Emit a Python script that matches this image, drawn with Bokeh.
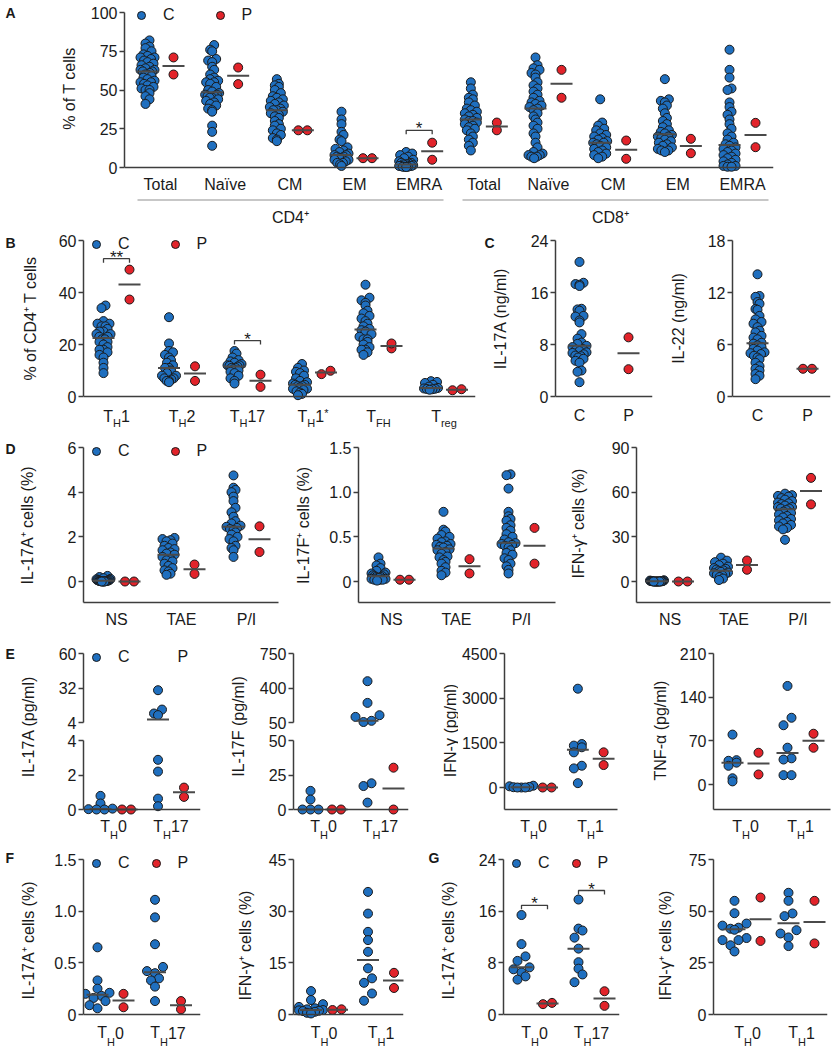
import numpy as np
from math import pi
from bokeh.plotting import figure
from bokeh.models import ColumnDataSource, Label, Legend, LegendItem, FixedTicker, Range1d, Arrow
from bokeh.layouts import row, column
from bokeh.embed import file_html
from bokeh.resources import INLINE

# ---------------------------------------------------------------- data
# Panel A
a_categories = ["Total", "Naïve", "CM", "EM", "EMRA", "Total", "Naïve", "CM", "EM", "EMRA"]
a_groups = ["CD4⁺", "CD8⁺"]
a_yticks = [0, 25, 50, 75, 100]
a_c = [
    [82, 80, 78, 77, 75, 73, 72, 71, 71, 70, 69, 68, 67, 66, 65, 64, 63, 63, 62, 62, 61, 60, 60, 59, 58, 57, 56, 55, 55, 54, 53, 52, 51, 50, 50, 48, 46, 44, 41],
    [79, 76, 75, 70, 69, 68, 65, 63, 60, 58, 57, 56, 55, 55, 54, 52, 50, 49, 48, 47, 47, 46, 46, 45, 45, 44, 43, 42, 41, 40, 38, 37, 36, 27, 23, 14],
    [57, 54, 53, 52, 50, 48, 46, 45, 44, 43, 42, 41, 40, 39, 38, 37, 37, 36, 35, 34, 33, 32, 30, 28, 27, 25, 24, 22, 21, 19, 18, 17],
    [36, 31, 28, 23, 21, 18, 17, 13, 12, 11, 10, 9, 8, 8, 7, 7, 6, 6, 5, 5, 4, 3, 3, 2, 1],
    [10, 9, 8, 7, 6, 5, 4, 3, 3, 2.5, 2, 2, 2, 1.5, 1, 1, 1, 1, 0.5, 0.5, 0.5, 0.3],
    [55, 51, 47, 45, 44, 42, 40, 38, 37, 36, 35, 34, 33, 32, 31, 30, 30, 29, 28, 27, 26, 25, 24, 22, 20, 18, 16, 14, 11],
    [71, 66, 64, 63, 61, 60, 58, 55, 53, 51, 49, 47, 45, 43, 42, 41, 40, 39, 38, 37, 35, 33, 31, 29, 27, 25, 22, 20, 16, 13, 10, 9, 8, 8, 7, 7, 6],
    [44, 29, 27, 25, 24, 22, 21, 20, 19, 18, 17, 16, 16, 15, 14, 13, 12, 11, 10, 9, 8, 7, 6],
    [57, 44, 43, 42, 40, 38, 35, 32, 30, 28, 26, 24, 23, 22, 21, 20, 20, 19, 18, 17, 16, 15, 14, 13, 12, 11, 11, 10],
    [76, 63, 58, 51, 50, 42, 39, 36, 34, 31, 28, 25, 22, 20, 18, 16, 15, 14, 13, 12, 11, 10, 9, 8, 7, 6, 5, 4, 3, 2, 1, 1, 0.5, 0.5],
]
a_p = [[71, 60], [64.5, 53.8], [24, 24], [6, 6], [16, 5], [29, 24], [63, 45], [17.4, 5.6], [18.5, 9.2], [28.8, 13.1]]
a_sig = [(4, 24, "*")]

# Panel B
b_categories = [("T", "H", "1", ""), ("T", "H", "2", ""), ("T", "H", "17", ""), ("T", "H", "1", "*"), ("T", "FH", "", ""), ("T", "reg", "", "")]
b_yticks = [0, 20, 40, 60]
b_c = [
    [35, 34, 29, 28, 28, 27, 27, 26, 25, 25, 24, 24, 23, 23, 22, 22, 21, 21, 20, 19, 18, 18, 17, 16, 15, 13, 11, 9],
    [30.5, 20.4, 17.5, 17, 16, 15, 14, 13, 12, 11, 11, 10, 9, 8, 8, 7, 7, 6.5, 6, 6, 5.5],
    [17.5, 16.5, 15, 14, 13.5, 13, 12.5, 12, 12, 11.8, 11.5, 11, 11, 10.5, 10, 9.5, 9, 8, 7, 6, 5],
    [12.5, 11, 10, 9.5, 9, 8, 7, 6, 5.5, 5, 4.5, 4.5, 4, 4, 3.5, 3, 3, 2.5, 2, 1.5, 1, 0.5],
    [43, 38, 37, 36, 35, 33, 32, 31, 30, 29, 28, 27, 26, 25.5, 25, 24, 23, 22, 22, 21, 20, 19, 18, 18, 17, 16],
    [5.9, 5.6, 5.2, 4.5, 3.8, 3.3, 3.1, 3.0, 2.9, 2.8, 2.6],
]
b_p = [[48.8, 37.3], [11.6, 6], [8.4, 3.7], [8.6, 9.9], [18.5, 20.4], [2.4, 2.8]]
b_sig = [(0, 53, "**"), (2, 21.5, "*")]

# Panel C
c_categories = ["C", "P"]
c1_yticks = [0, 8, 16, 24]
c1_c = [[20.7, 17.5, 17.3, 17.2, 17, 13.5, 13.4, 13.2, 12.4, 12.3, 11.7, 11.4, 9.6, 8.9, 8.3, 8.1, 7.8, 7.6, 7.3, 7.2, 7, 6.8, 6.7, 6.5, 6.3, 6.2, 6, 5.8, 5.5, 5.2, 4, 3.8, 2.2], []]
c1_p = [[], [9.1, 4.2]]
c2_yticks = [0, 6, 12, 18]
c2_c = [[14.1, 11.6, 11.5, 10.9, 10.7, 10.1, 10, 9.3, 8.9, 8.6, 8.4, 8.0, 7.6, 7.4, 7.0, 6.8, 6.6, 6.2, 6.1, 5.9, 5.7, 5.5, 5.3, 5.1, 5.0, 4.9, 4.7, 4.5, 4.3, 3.9, 3.5, 3.2, 3.0, 2.6, 2.4, 2.0], []]
c2_p = [[], [3.2, 3.2]]

# Panel D
d_categories = ["NS", "TAE", "P/I"]
d1_yticks = [0, 2, 4, 6]
d1_c = [
    [0.25, 0.2, 0.15, 0.12, 0.1, 0.08, 0.06, 0.05, 0.05, 0.04, 0.03, 0.03, 0.02, 0.02, 0.01, 0.01, 0, 0, 0, 0],
    [1.95, 1.9, 1.85, 1.8, 1.7, 1.6, 1.5, 1.45, 1.4, 1.3, 1.25, 1.2, 1.1, 1.0, 0.95, 0.9, 0.8, 0.7, 0.6, 0.5, 0.45, 0.35, 0.3],
    [4.75, 4.2, 4.1, 4.0, 3.8, 3.6, 3.3, 3.1, 2.9, 2.7, 2.6, 2.5, 2.45, 2.4, 2.35, 2.3, 2.2, 2.1, 2.0, 1.9, 1.8, 1.6, 1.5, 1.4, 1.1],
]
d1_p = [[0, 0], [0.34, 0.76], [2.47, 1.32]]
d2_yticks = [0, 0.5, 1.0, 1.5]
d2_c = [
    [0.27, 0.2, 0.18, 0.15, 0.12, 0.1, 0.09, 0.08, 0.07, 0.06, 0.06, 0.05, 0.05, 0.04, 0.04, 0.03, 0.03, 0.02, 0.02, 0.02, 0.01],
    [0.78, 0.58, 0.56, 0.52, 0.5, 0.48, 0.45, 0.44, 0.42, 0.41, 0.4, 0.39, 0.38, 0.36, 0.35, 0.33, 0.31, 0.28, 0.27, 0.24, 0.22, 0.2, 0.16, 0.12, 0.1, 0.07],
    [1.2, 1.19, 1.04, 0.78, 0.73, 0.7, 0.68, 0.63, 0.6, 0.57, 0.53, 0.5, 0.47, 0.44, 0.43, 0.42, 0.41, 0.4, 0.38, 0.35, 0.32, 0.3, 0.26, 0.24, 0.2, 0.17, 0.13, 0.09],
]
d2_p = [[0.02, 0.02], [0.25, 0.09], [0.6, 0.2]]
d3_yticks = [0, 30, 60, 90]
d3_c = [
    [0.8, 0.6, 0.5, 0.4, 0.3, 0.3, 0.2, 0.2, 0.1, 0.1, 0.1, 0, 0, 0, 0, 0, 0, 0, 0, 0],
    [16, 14, 13, 12, 11, 10, 9, 8.5, 8, 7.5, 7, 6.5, 6, 5.5, 5, 4.5, 4, 3, 2, 1],
    [59, 58, 57.5, 57, 56, 55, 54, 53, 52.5, 52, 51, 50, 50, 49, 49, 48, 47, 46, 45, 44, 43, 42, 41, 40, 39, 38, 37, 36, 35, 28],
]
d3_p = [[0, 0], [7.9, 14.1], [69.6, 51.8]]

# Panel E (E1/E2 have broken axes)
e_th17 = [("T", "H", "0", ""), ("T", "H", "17", "")]
e_th1 = [("T", "H", "0", ""), ("T", "H", "1", "")]
e1_top_ticks, e1_bot_ticks = [4, 32, 60], [0, 2, 4]
e1_c = [[0.79, 0.35, 0.05, 0.02, 0, 0], [30.2, 14.5, 11.3, 10, 2.88, 2.2, 0.63, 0.19]]
e1_p = [[0, 0], [0.73, 1.27]]
e2_top_ticks, e2_bot_ticks = [50, 400, 750], [0, 25, 50]
e2_c = [[13.5, 7.2, 0, 0, 0], [469, 249, 124, 107, 67, 55, 19, 17, 5]]
e2_p = [[0, 0], [30.3, 0]]
e3_yticks = [0, 1500, 3000, 4500]
e3_c = [[60, 40, 20, 10, 0, 0, 0], [3318, 1460, 1406, 1350, 1181, 731, 641, 146]]
e3_p = [[0, 0], [1181, 754]]
e4_yticks = [0, 70, 140, 210]
e4_c = [[80, 39, 38, 35, 30, 10, 5], [158, 107, 95, 59, 42, 40, 15, 15]]
e4_p = [[50.9, 16.1], [81.4, 58.9]]

# Panels F and G
f1_yticks = [0, 0.5, 1.0, 1.5]
f1_c = [[0.65, 0.33, 0.25, 0.21, 0.2, 0.18, 0.16, 0.13, 0.09, 0.06], [1.11, 0.94, 0.68, 0.46, 0.42, 0.40, 0.35, 0.33, 0.27, 0.13]]
f1_p = [[0.2, 0.07], [0.13, 0.05]]
f2_yticks = [0, 15, 30, 45]
f2_c = [[6.8, 4.2, 3.0, 2.2, 1.8, 1.5, 1.3, 1.2, 1.1, 1.0, 0.8, 0.5, 0.3], [35.6, 29.3, 24, 21.6, 18.2, 13.4, 10.5, 9.2, 6.1, 4.0]]
f2_p = [[1.3, 1.5], [12.1, 7.7]]
g1_yticks = [0, 8, 16, 24]
g1_c = [[15.4, 10.9, 9.0, 8.3, 7.3, 7.0, 6.5, 5.9, 5.4], [17.8, 13.3, 13.0, 11.9, 10.2, 8.1, 7.1, 6.2, 5.0]]
g1_p = [[1.6, 1.8], [3.6, 1.34]]
g1_sig = [(0, 16.9, "*"), (1, 19.2, "*")]
g2_yticks = [0, 25, 50, 75]
g2_c = [[55, 49, 44, 43, 42, 41.5, 41, 37, 36, 36, 33.5, 30.5], [58.9, 55, 48.9, 47.6, 40.8, 39.2, 37.3, 33.1]]
g2_p = [[56.6, 35.6], [55, 34.4]]

# ---------------------------------------------------------------- style
FONT = "Liberation Sans"
TXT = "#1a1a1a"
AXC = "#3d3d3d"
MEDC = "#4a4a4a"
GRP = "#909090"
BLUE = "#1f6fbf"
RED = "#e2232a"
EDGE = "#1a1a1a"
TICK_PX = 16
CAT_PX = 16
SUB_PX = 11
TITLE_PX = 16
DENSE = (6, 4, 7)
SPARSE = (9, 8, 12)
PAIR = (8, 9, 9)
MID = 0.35          # text middle sits this many ems above the baseline


def lin(r0, v0, r1, v1):
    return lambda r: v0 + (r - r0) * (v1 - v0) / (r1 - r0)


def style_axis(ax):
    ax.axis_line_color = AXC
    ax.axis_line_width = 1.5
    ax.major_tick_line_color = AXC
    ax.major_tick_line_width = 1.5
    ax.major_tick_in = 0
    ax.major_tick_out = 5
    ax.minor_tick_line_color = None
    ax.major_label_text_font = FONT
    ax.major_label_text_font_size = f"{TICK_PX}px"
    ax.major_label_text_color = TXT
    ax.major_label_standoff = 2


def hide_grids(p):
    for g in list(p.xgrid) + list(p.ygrid):
        g.visible = False


class Panel:
    """A plotting figure whose frame sits at given page pixels."""

    def __init__(self, box, fx, fy, xmap, ymap, yticks=None, bounds=None, fixed0=False, xaxis=True, ext_top=10):
        gx0, gx1, gy0, gy1 = box
        self.box = box
        self.X = lin(*xmap)
        self.Y = lin(*ymap)
        top = fy[0] - ext_top           # frame reaches a little above the top tick
        self.fx0, self.fx1 = fx
        self.fy0, self.fy1 = top, fy[1]
        self.xmap = xmap
        self.xpx = (xmap[2] - xmap[0]) / (xmap[3] - xmap[1])
        self.ypx = (ymap[2] - ymap[0]) / (ymap[1] - ymap[3])
        xr = (self.X(fx[0]), self.X(fx[1]))
        yr = (self.Y(fy[1]), self.Y(top))
        p = figure(width=gx1 - gx0, height=gy1 - gy0, x_range=Range1d(*xr), y_range=Range1d(*yr),
                   output_backend="svg", toolbar_location=None, frame_align=False,
                   x_axis_location="below" if xaxis else None, y_axis_location="left",
                   min_border_left=fx[0] - gx0, min_border_right=gx1 - fx[1],
                   min_border_top=top - gy0, min_border_bottom=gy1 - fy[1])
        p.outline_line_color = None
        hide_grids(p)
        if xaxis:
            ax = p.xaxis[0]
            style_axis(ax)
            ax.major_tick_out = 0
            ax.ticker = FixedTicker(ticks=[])
            if fixed0:
                ax.fixed_location = 0
        ay = p.yaxis[0]
        style_axis(ay)
        ay.ticker = FixedTicker(ticks=yticks)
        ay.major_label_overrides = {float(t): str(t) for t in yticks}
        if bounds is None:
            bounds = (0 if fixed0 else yr[0], self.Y(fy[0]))
        ay.bounds = bounds
        self.fig = p

    def cat_ref(self, i):
        return self.xmap[0] + i * (self.xmap[2] - self.xmap[0]) / (self.xmap[3] - self.xmap[1])


class Strip:
    """A blank figure used only to hold texts and guide lines, in page pixels."""

    def __init__(self, x0, x1, y0, y1):
        p = figure(width=x1 - x0, height=y1 - y0, x_range=Range1d(x0, x1), y_range=Range1d(-y1, -y0),
                   output_backend="svg", toolbar_location=None, frame_align=False,
                   x_axis_location=None, y_axis_location=None,
                   min_border_left=0, min_border_right=0, min_border_top=0, min_border_bottom=0)
        p.outline_line_color = None
        hide_grids(p)
        self.fig = p

    def text(self, x, y, s, size=TITLE_PX, align="center", angle=0, bold=False, x_offset=0):
        # y is the baseline (page pixels); the label is centred on the text's middle
        self.fig.add_layout(Label(
            x=x, y=-(y - MID * size), x_offset=x_offset, text=s,
            text_font=FONT, text_font_size=f"{size}px", text_color=TXT,
            text_align=align, text_baseline="middle", angle=angle,
            text_font_style="bold" if bold else "normal"))

    def ytitle(self, x, y, s):
        self.fig.add_layout(Label(
            x=x, y=-y, text=s, text_font=FONT, text_font_size=f"{TITLE_PX}px", text_color=TXT,
            text_align="center", text_baseline="middle", angle=pi / 2))

    def letter(self, x, y, s):
        self.text(x, y, s, size=14, align="left", bold=True)

    def hline(self, x0, x1, y):
        self.fig.add_layout(Arrow(end=None, x_start=x0, y_start=-y, x_end=x1, y_end=-y,
                                  line_color=GRP, line_width=1.2))


CW = {"T": .611, "H": .722, "F": .611, "r": .333, "e": .556, "g": .556, "*": .389}


def tw(s, size):
    return sum(CW.get(ch, .556) for ch in s) * size


def sub_labels(strip, pn, parts_list, yref, dsub):
    for i, parts in enumerate(parts_list):
        main, sub, tail, sup = parts
        pieces = [(main, CAT_PX, 0), (sub, SUB_PX, dsub), (tail, CAT_PX, 0), (sup, SUB_PX, -5)]
        pieces = [q for q in pieces if q[0]]
        xo = -sum(tw(t, s) for t, s, _ in pieces) / 2
        for t, s, dy in pieces:
            strip.text(pn.cat_ref(i), yref + dy, t, size=s, align="left", x_offset=xo)
            xo += tw(t, s)


def plain_labels(strip, pn, labels, yref):
    for i, s in enumerate(labels):
        strip.text(pn.cat_ref(i), yref, s, size=CAT_PX)


def below(pn, y1):
    gx0, gx1, gy0, gy1 = pn.box
    return Strip(gx0, gx1, gy1, y1)


def swarm_offsets(vals, ypx, bh, sp, mw):
    v = np.asarray(vals, float)
    out = np.zeros(len(v))
    bins = np.floor(v * ypx / bh + 0.5).astype(int)
    for b in sorted(set(bins.tolist())):
        idx = np.where(bins == b)[0]
        idx = idx[np.argsort(v[idx], kind="stable")]
        n = len(idx)
        if n < 2:
            continue
        s = min(sp, 2 * mw / (n - 1))
        slots = sorted([(k - (n - 1) / 2) * s for k in range(n)], key=lambda z: (abs(z), z))
        for k, j in enumerate(idx):
            out[j] = slots[k]
    return out


def draw_groups(pn, c_groups, p_groups, cpar=DENSE, lo=-1e18, hi=1e18):
    off = 13 / pn.xpx
    half = 11 / pn.xpx
    rends = []
    segs = dict(x0=[], x1=[], y=[])
    for groups, sign, par, color in ((c_groups, -1, cpar, BLUE), (p_groups, 1, PAIR, RED)):
        xs, ys = [], []
        for i, g in enumerate(groups):
            g = np.asarray(g, float)
            if len(g) == 0:
                continue
            center = i + sign * off if len(c_groups[i]) and len(p_groups[i]) else i
            m = float(np.median(g))
            if lo < m <= hi:
                segs["x0"].append(center - half)
                segs["x1"].append(center + half)
                segs["y"].append(m)
            sel = g[(g > lo) & (g <= hi)]
            if len(sel):
                o = swarm_offsets(sel, pn.ypx, *par)
                xs += list(center + o / pn.xpx)
                ys += list(sel)
        src = ColumnDataSource(dict(x=xs, y=ys))
        r = pn.fig.scatter(x="x", y="y", source=src, size=9, marker="circle",
                           fill_color=color, line_color=EDGE, line_width=1)
        rends.append(r)
    pn.fig.segment(x0="x0", y0="y", x1="x1", y1="y", source=ColumnDataSource(segs),
                   line_color=MEDC, line_width=2)
    return rends


def add_legend(pn, rends, cx, cy, spacing):
    leg = Legend(items=[LegendItem(label="C", renderers=[rends[0]]), LegendItem(label="P", renderers=[rends[1]])],
                 location=(cx - 10 - pn.fx0, pn.fy1 - (cy + 10)), orientation="horizontal",
                 border_line_color=None, background_fill_alpha=0, padding=0, margin=0,
                 spacing=spacing, label_standoff=12, glyph_width=20, glyph_height=20,
                 label_width=11, label_height=20, label_text_font=FONT,
                 label_text_font_size="16px", label_text_color=TXT)
    pn.fig.add_layout(leg)


def add_sig(pn, sigs):
    off = 13 / pn.xpx
    t = 4 / pn.ypx
    xs, ys = [], []
    for cat, y, s in sigs:
        x0, x1 = cat - off, cat + off
        xs.append([x0, x0, x1, x1])
        ys.append([y - t, y, y, y - t])
        pn.fig.add_layout(Label(x=cat, y=y + 1.5 / pn.ypx, text=s, text_font=FONT, text_font_size="17px",
                                text_color=TXT, text_align="center", text_baseline="middle"))
    pn.fig.multi_line(xs=xs, ys=ys, line_color=AXC, line_width=1.3)


# ---------------------------------------------------------------- row 1 : A  (y 0..230)
sA = Strip(0, 80, 0, 230)
sA.letter(5, 17, "A")
sA.ytitle(69, 88, "% of T cells")
A = Panel((80, 839, 0, 176), (124, 773), (12, 173), (160, 0, 224.67, 1), (12, 100, 167, 0),
          a_yticks, fixed0=True)
rA = draw_groups(A, a_c, a_p)
add_sig(A, a_sig)
add_legend(A, rA, 141, 15, 35)
bA = below(A, 230)
plain_labels(bA, A, a_categories, 190)
for (gx0, gx1, gl, gc) in ((137, 443, a_groups[0], 290), (462, 768, a_groups[1], 610)):
    bA.hline(gx0, gx1, 199.5)
    bA.text(gc, 223, gl, size=TITLE_PX)
row1 = row(sA.fig, column(A.fig, bA.fig))

# ---------------------------------------------------------------- row 2 : B, C  (y 230..429)
sB = Strip(0, 40, 230, 429)
sB.letter(5, 247, "B")
sB.ytitle(30, 318, "% of CD4⁺ T cells")
B = Panel((40, 478, 230, 405), (83, 475), (240, 402), (116, 0, 181.5, 1), (240, 60, 396, 0),
          b_yticks, fixed0=True)
rB = draw_groups(B, b_c, b_p)
add_sig(B, b_sig)
add_legend(B, rB, 96, 244, 35)
bB = below(B, 429)
sub_labels(bB, B, b_categories, 421.5, 5)

sC1 = Strip(478, 512, 230, 429)
sC1.letter(484, 247, "C")
sC1.ytitle(500, 318, "IL-17A (ng/ml)")
C1 = Panel((512, 660, 230, 405), (555, 652), (240, 402), (579, 0, 628, 1), (240, 24, 396, 0),
           c1_yticks, fixed0=True)
draw_groups(C1, c1_c, c1_p)
bC1 = below(C1, 429)
plain_labels(bC1, C1, c_categories, 420.5)

sC2 = Strip(660, 690, 230, 429)
sC2.ytitle(678, 318, "IL-22 (ng/ml)")
C2 = Panel((690, 839, 230, 405), (732, 830), (240, 402), (757, 0, 807, 1), (240, 18, 396, 0),
           c2_yticks, fixed0=True)
draw_groups(C2, c2_c, c2_p)
bC2 = below(C2, 429)
plain_labels(bC2, C2, c_categories, 420.5)
row2 = row(sB.fig, column(B.fig, bB.fig), sC1.fig, column(C1.fig, bC1.fig), sC2.fig, column(C2.fig, bC2.fig))

# ---------------------------------------------------------------- row 3 : D  (y 429..628)
sD1 = Strip(0, 40, 429, 628)
sD1.letter(5, 453, "D")
sD1.ytitle(27, 525, "IL-17A⁺ cells (%)")
D1 = Panel((40, 290, 429, 612), (83, 278), (447, 602), (116, 0, 181, 1), (447, 6, 581, 0), d1_yticks)
rD = draw_groups(D1, d1_c, d1_p)
add_legend(D1, rD, 96, 451, 35)
bD1 = below(D1, 628)
plain_labels(bD1, D1, d_categories, 625)

sD2 = Strip(290, 318, 429, 628)
sD2.ytitle(303, 525, "IL-17F⁺ cells (%)")
D2 = Panel((318, 565, 429, 612), (358, 555), (447, 602), (391, 0, 456, 1), (447, 1.5, 581, 0), d2_yticks)
draw_groups(D2, d2_c, d2_p)
bD2 = below(D2, 628)
plain_labels(bD2, D2, d_categories, 625)

sD3 = Strip(565, 593, 429, 628)
sD3.ytitle(578, 523, "IFN-γ⁺ cells (%)")
D3 = Panel((593, 839, 429, 612), (636, 830), (447, 602), (669.5, 0, 733.5, 1), (447, 90, 581, 0), d3_yticks)
draw_groups(D3, d3_c, d3_p)
bD3 = below(D3, 628)
plain_labels(bD3, D3, d_categories, 625)
row3 = row(sD1.fig, column(D1.fig, bD1.fig), sD2.fig, column(D2.fig, bD2.fig), sD3.fig, column(D3.fig, bD3.fig))

# ---------------------------------------------------------------- row 4 : E  (y 628..842)
sE1 = Strip(0, 45, 628, 842)
sE1.letter(5, 658, "E")
sE1.ytitle(28, 726, "IL-17A (pg/ml)")
E1t = Panel((45, 222, 628, 731), (83, 200), (653, 731), (113, 0, 170.5, 1), (653, 60, 722, 4),
            e1_top_ticks, bounds=(4, 60), xaxis=False)
rE = draw_groups(E1t, e1_c, e1_p, SPARSE, lo=4)
add_legend(E1t, rE, 96, 657, 16)
E1b = Panel((45, 222, 731, 818), (83, 200), (731, 815), (113, 0, 170.5, 1), (740, 4, 809, 0),
            e1_bot_ticks, bounds=(0, 4), fixed0=True, ext_top=0)
draw_groups(E1b, e1_c, e1_p, SPARSE, hi=4)
bE1 = below(E1b, 842)
sub_labels(bE1, E1b, e_th17, 831.5, 6.5)

sE2 = Strip(222, 255, 628, 842)
sE2.ytitle(238, 726, "IL-17F (pg/ml)")
E2t = Panel((255, 432, 628, 731), (293, 408), (653, 731), (323, 0, 380, 1), (653, 750, 722, 50),
            e2_top_ticks, bounds=(50, 750), xaxis=False)
draw_groups(E2t, e2_c, e2_p, SPARSE, lo=50)
E2b = Panel((255, 432, 731, 818), (293, 408), (731, 815), (323, 0, 380, 1), (740, 50, 809, 0),
            e2_bot_ticks, bounds=(0, 50), fixed0=True, ext_top=0)
draw_groups(E2b, e2_c, e2_p, SPARSE, hi=50)
bE2 = below(E2b, 842)
sub_labels(bE2, E2b, e_th17, 831.5, 6.5)

sE3 = Strip(432, 458, 628, 842)
sE3.ytitle(450, 730, "IFN-γ (pg/ml)")
E3 = Panel((458, 645, 628, 819), (503, 617), (653, 809), (533, 0, 590, 1), (653, 4500, 787, 0), e3_yticks)
draw_groups(E3, e3_c, e3_p, SPARSE)
bE3 = below(E3, 842)
sub_labels(bE3, E3, e_th1, 831.5, 6.5)

sE4 = Strip(645, 672, 628, 842)
sE4.ytitle(660, 730, "TNF-α (pg/ml)")
E4 = Panel((672, 839, 628, 819), (713, 830), (653, 809), (745, 0, 800, 1), (653, 210, 784, 0), e4_yticks)
draw_groups(E4, e4_c, e4_p, SPARSE)
bE4 = below(E4, 842)
sub_labels(bE4, E4, e_th1, 831.5, 6.5)
row4 = row(sE1.fig, column(E1t.fig, E1b.fig, bE1.fig), sE2.fig, column(E2t.fig, E2b.fig, bE2.fig),
           sE3.fig, column(E3.fig, bE3.fig), sE4.fig, column(E4.fig, bE4.fig))

# ---------------------------------------------------------------- row 5 : F, G  (y 842..1050)
sF1 = Strip(0, 40, 842, 1050)
sF1.letter(5, 862, "F")
sF1.ytitle(28, 940, "IL-17A⁺ cells (%)")
F1 = Panel((40, 232, 842, 1023), (83, 200), (859, 1020), (110, 0, 167.5, 1), (859, 1.5, 1014, 0),
           f1_yticks, fixed0=True)
rF = draw_groups(F1, f1_c, f1_p, SPARSE)
add_legend(F1, rF, 96, 863, 16)
bF1 = below(F1, 1050)
sub_labels(bF1, F1, e_th17, 1038, 7)

sF2 = Strip(232, 258, 842, 1050)
sF2.ytitle(245, 945, "IFN-γ⁺ cells (%)")
F2 = Panel((258, 420, 842, 1023), (293, 403), (859, 1020), (323.5, 0, 380.5, 1), (859, 45, 1014, 0),
           f2_yticks, fixed0=True)
draw_groups(F2, f2_c, f2_p, SPARSE)
bF2 = below(F2, 1050)
sub_labels(bF2, F2, e_th1, 1038, 7)

sG1 = Strip(420, 460, 842, 1050)
sG1.letter(428, 862, "G")
sG1.ytitle(448, 940, "IL-17A⁺ cells (%)")
G1 = Panel((460, 645, 842, 1023), (503, 619), (859, 1020), (534, 0, 591, 1), (859, 24, 1014, 0),
           g1_yticks, fixed0=True)
rG = draw_groups(G1, g1_c, g1_p, SPARSE)
add_sig(G1, g1_sig)
add_legend(G1, rG, 516, 863, 16)
bG1 = below(G1, 1050)
sub_labels(bG1, G1, e_th17, 1038, 7)

sG2 = Strip(645, 675, 842, 1050)
sG2.ytitle(665, 945, "IFN-γ⁺ cells (%)")
G2 = Panel((675, 839, 842, 1023), (713, 827), (859, 1020), (747, 0, 801, 1), (859, 75, 1014, 0),
           g2_yticks, fixed0=True)
draw_groups(G2, g2_c, g2_p, SPARSE)
bG2 = below(G2, 1050)
sub_labels(bG2, G2, e_th1, 1038, 7)
row5 = row(sF1.fig, column(F1.fig, bF1.fig), sF2.fig, column(F2.fig, bF2.fig),
           sG1.fig, column(G1.fig, bG1.fig), sG2.fig, column(G2.fig, bG2.fig))

layout = column(row1, row2, row3, row4, row5)

with open("out.html", "w", encoding="utf-8") as f:
    f.write(file_html(layout, INLINE, "Figure"))
